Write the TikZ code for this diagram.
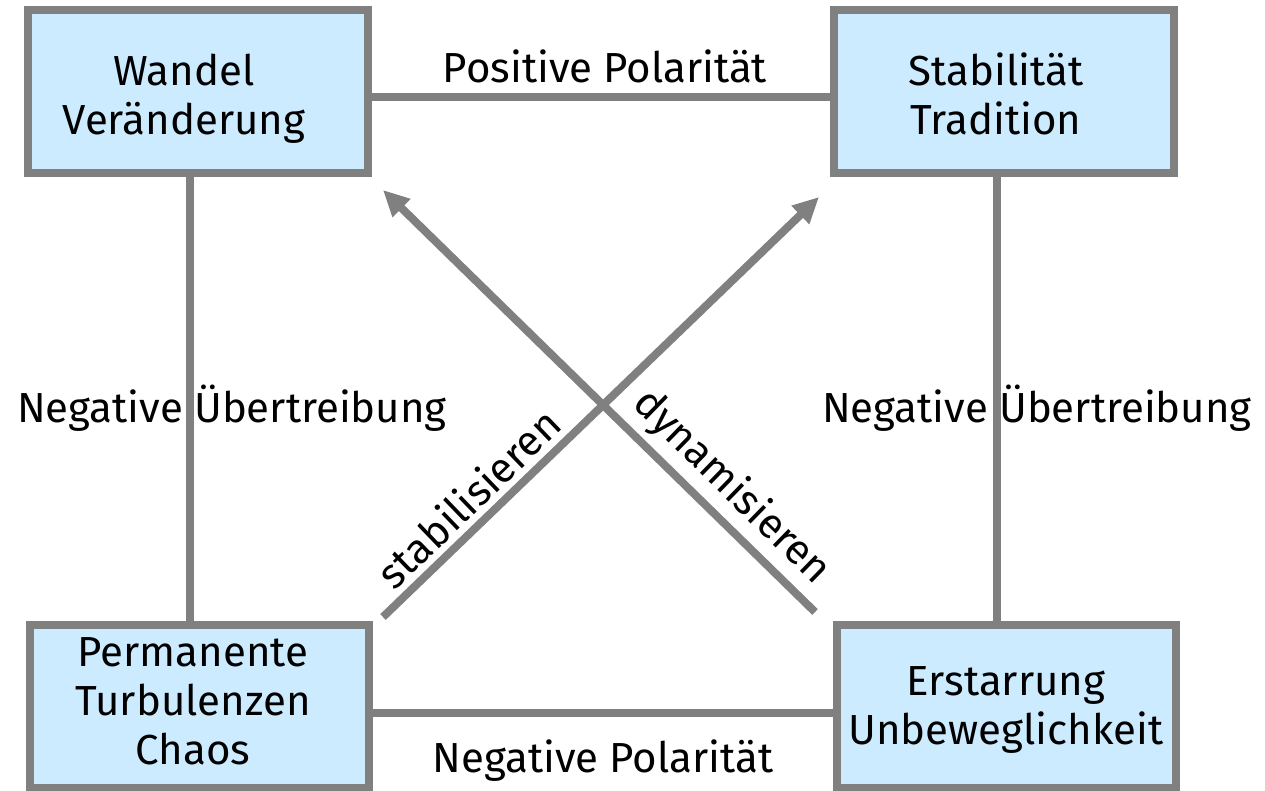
\documentclass[tikz,border=0pt]{standalone}
\usepackage{fontspec}
\setmainfont{Fira Sans}
\usetikzlibrary{arrows.meta}
\definecolor{boxfill}{HTML}{CCEBFF}
\definecolor{linegray}{HTML}{808080}
\begin{document}
\begin{tikzpicture}[x=1pt,y=-1pt,
  box/.style={draw=linegray,line width=8pt,fill=boxfill,inner sep=0pt},
  conn/.style={draw=linegray,line width=8pt},
  arr/.style={conn,-{Triangle[length=26pt,width=24pt]}},
  txt/.style={font=\fontsize{42}{49}\selectfont,align=center,inner sep=0pt},
  lbl/.style={font=\fontsize{42}{49}\selectfont,inner sep=0pt}]
\useasboundingbox (0,0) rectangle (1265,791);
% boxes
\node[box,minimum width=340pt,minimum height=163pt] (tl) at (198,91.5) {};
\node[box,minimum width=340pt,minimum height=163pt] (tr) at (1004,91.5) {};
\node[box,minimum width=339pt,minimum height=163pt] (bl) at (199.5,706.5) {};
\node[box,minimum width=339pt,minimum height=163pt] (br) at (1006.5,706.5) {};
% box texts
\node[txt] (tlt) at (184,99) {Wandel\\Veränderung};
\node[txt] (trt) at (996,94) {Stabilität\\Tradition};
\node[txt] (blt) at (193,701) {Permanente\\Turbulenzen\\Chaos};
\node[txt] (brt) at (1006,710) {Erstarrung\\Unbeweglichkeit};
% connectors
\draw[conn] (tl.east |- 0,97) -- (tr.west |- 0,97);
\draw[conn] (bl.east |- 0,713) -- (br.west |- 0,713);
\draw[conn] (190,0 |- tl.south) -- (190,0 |- bl.north);
\draw[conn] (997,0 |- tr.south) -- (997,0 |- br.north);
% diagonal arrows
\coordinate (s0) at (383,617);
\coordinate (s1) at (819,197);
\coordinate (d0) at (815,612);
\coordinate (d1) at (383,190);
\draw[arr] (s0) -- node[lbl,pos=0.238,sloped,above=6pt] (stab) {stabilisieren} (s1);
\draw[arr] (d0) -- node[lbl,pos=0.243,sloped,above=6pt] (dyn) {dynamisieren} (d1);
% labels
\node[lbl,anchor=base] (pp) at (605,83) {Positive Polarität};
\node[lbl,anchor=base] (np) at (603,772) {Negative Polarität};
\node[lbl,anchor=base] (nul) at (232,422) {Negative Übertreibung};
\node[lbl,anchor=base] (nur) at (1037,422) {Negative Übertreibung};
\end{tikzpicture}
\end{document}
